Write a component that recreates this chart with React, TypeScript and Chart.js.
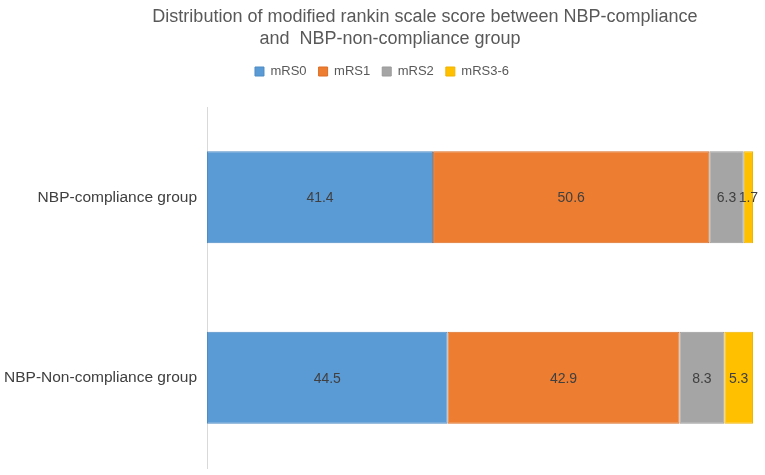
import { useEffect, useRef } from 'react';
import { Chart, registerables } from 'chart.js';
import type { Plugin } from 'chart.js';

Chart.register(...registerables);

const titleLines = [
  'Distribution of modified rankin scale score between NBP-compliance',
  'and  NBP-non-compliance group',
];
const groups = ['NBP-compliance group', 'NBP-Non-compliance group'];
const seriesNames = ['mRS0', 'mRS1', 'mRS2', 'mRS3-6'];
const mrs0 = [41.4, 44.5];
const mrs1 = [50.6, 42.9];
const mrs2 = [6.3, 8.3];
const mrs36 = [1.7, 5.3];

const fills = ['#5B9BD5', '#ED7D31', '#A5A5A5', '#FFC000'];
const edges = ['#4F8CC4', '#DC6E24', '#999999', '#F0B400'];
const FONT = '"Liberation Sans", Arial, sans-serif';

// 100% stacked: each group is scaled to its own total
const series = [mrs0, mrs1, mrs2, mrs36];
const totals = groups.map((_, i) => series.reduce((s, arr) => s + arr[i], 0));

const titlePlugin: Plugin<'bar'> = {
  id: 'twoLineTitle',
  afterLayout(chart) {
    // nudge the legend so it centres like the original
    if (chart.legend) chart.legend.left += 11;
  },
  afterDraw(chart) {
    const { ctx } = chart;
    ctx.save();
    ctx.fillStyle = '#595959';
    ctx.font = `18px ${FONT}`;
    ctx.textAlign = 'center';
    ctx.textBaseline = 'alphabetic';
    ctx.fillText(titleLines[0], 425, 22);
    ctx.fillText(titleLines[1], 390, 44);
    ctx.restore();
  },
};

const valueLabels: Plugin<'bar'> = {
  id: 'valueLabels',
  afterDatasetsDraw(chart) {
    const { ctx } = chart;
    ctx.save();
    ctx.fillStyle = '#404040';
    ctx.font = `14px ${FONT}`;
    ctx.textAlign = 'center';
    ctx.textBaseline = 'middle';
    chart.data.datasets.forEach((_, di) => {
      chart.getDatasetMeta(di).data.forEach((el, i) => {
        const { x, y, base } = el.getProps(['x', 'y', 'base'], true) as any;
        ctx.fillText(String(series[di][i]), (x + base) / 2, y + 1);
      });
    });
    ctx.restore();
  },
};

export default function App() {
  const canvasRef = useRef<HTMLCanvasElement>(null);

  useEffect(() => {
    document.body.style.margin = '0';
    if (!canvasRef.current) return;
    const chart = new Chart(canvasRef.current, {
      type: 'bar',
      data: {
        labels: groups,
        datasets: seriesNames.map((name, k) => ({
          label: name,
          data: series[k].map((v, i) => (v / totals[i]) * 100),
          backgroundColor: fills[k],
          borderColor: edges[k],
          borderWidth: 1,
          borderSkipped: false,
          categoryPercentage: 1,
          barPercentage: 0.51,
        })),
      },
      options: {
        indexAxis: 'y',
        animation: false,
        responsive: false,
        layout: { padding: { top: 53, right: 12, left: 0, bottom: 7 } },
        plugins: {
          title: { display: false },
          tooltip: { enabled: false },
          legend: {
            position: 'top',
            labels: {
              boxWidth: 9,
              boxHeight: 9,
              padding: 12,
              color: '#595959',
              font: { family: FONT, size: 13 },
            },
          },
        },
        scales: {
          x: {
            position: 'top',
            stacked: true,
            min: 0,
            max: 100,
            grid: { display: false, drawTicks: false },
            border: { display: false },
            ticks: { display: false },
            afterFit: (scale) => {
              scale.height = 107 - 53 - 35;
            },
          },
          y: {
            stacked: true,
            grid: { display: false, drawTicks: false, tickLength: 0 },
            border: { display: true, color: '#D9D9D9', width: 1 },
            ticks: {
              padding: 10,
              color: '#404040',
              font: { family: FONT, size: 15.5 },
            },
            afterFit: (scale: any) => {
              scale.width = 207;
              scale.paddingTop = 0;
              scale.paddingBottom = 0;
            },
          },
        },
      },
      plugins: [titlePlugin, valueLabels],
    });
    return () => chart.destroy();
  }, []);

  return (
    <div style={{ width: 765, height: 475, background: '#fff' }}>
      <canvas ref={canvasRef} width={765} height={475} style={{ display: 'block' }} />
    </div>
  );
}
